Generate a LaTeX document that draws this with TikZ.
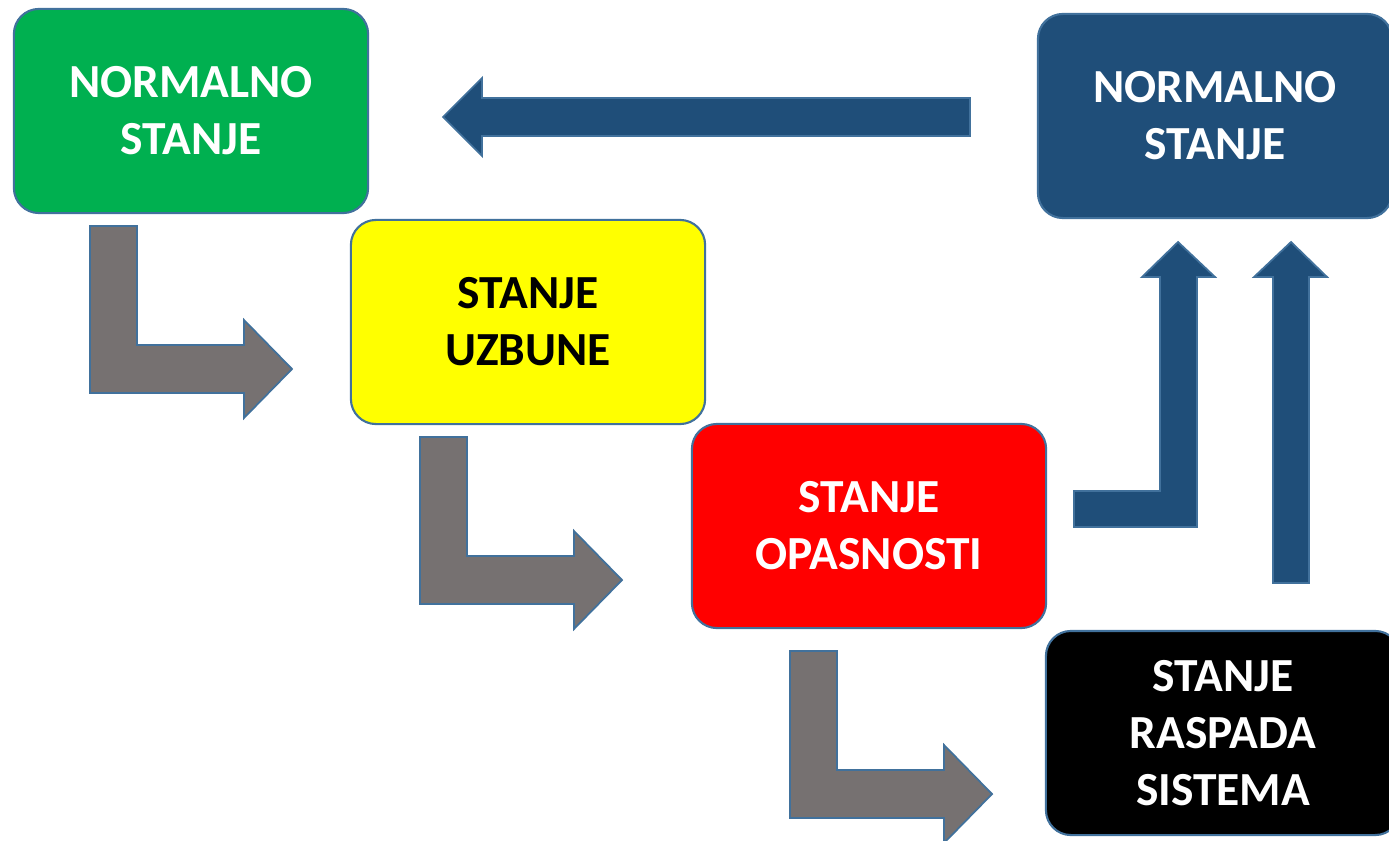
\documentclass[tikz,border=0pt]{standalone}
\usepackage{fontspec}
\setmainfont{Carlito}
\definecolor{okvir}{HTML}{41719C}
\definecolor{zelena}{HTML}{00B050}
\definecolor{zuta}{HTML}{FFFF00}
\definecolor{crvena}{HTML}{FF0000}
\definecolor{plava}{HTML}{1F4E79}
\definecolor{siva}{HTML}{767171}
\tikzset{
  stanje/.style={draw=okvir,line width=0.6pt,rectangle,rounded corners=0.25cm,
    minimum width=3.54cm,minimum height=2.04cm,inner sep=0pt,align=center,
    text=white,font=\fontsize{13.5}{16.2}\selectfont\bfseries},
  strelica/.style={draw=okvir,line width=0.5pt,line join=miter}
}
\begin{document}
\begin{tikzpicture}[x=0.01cm,y=-0.01cm]
  % Page frame
  \clip (0,0) rectangle (1389,840);
  %
  % States
  \node[stanje,fill=zelena] (normalno) at (191,111) {NORMALNO\\STANJE};
  \node[stanje,fill=zuta,text=black] (uzbuna) at (528,322) {STANJE\\UZBUNE};
  \node[stanje,fill=crvena] (opasnost) at (869,526) {STANJE\\OPASNOSTI};
  \node[stanje,fill=black] (raspad) at (1223,733) {STANJE\\RASPADA\\SISTEMA};
  \node[stanje,fill=plava] (povratak) at (1215,116) {NORMALNO\\STANJE};
  %
  % Gray bent arrows, going down
  \foreach \dx/\dy in {0/0,330/211,700/425} {
    \draw[strelica,fill=siva,shift={(\dx,\dy)}]
      (90,226) -- (137,226) -- (137,345) -- (244,345) -- (244,320)
      -- (292,369) -- (244,418) -- (244,393) -- (90,393) -- cycle;
  }
  %
  % Blue arrows, going back
  \draw[strelica,fill=plava] (970,98) -- (482,98) -- (482,78) -- (443,117)
    -- (482,156) -- (482,136) -- (970,136) -- cycle;
  \draw[strelica,fill=plava] (1074,491) -- (1160,491) -- (1160,277) -- (1142,277)
    -- (1178,242) -- (1215,277) -- (1197,277) -- (1197,527) -- (1074,527) -- cycle;
  \draw[strelica,fill=plava] (1273,583) -- (1273,277) -- (1254,277) -- (1291,242)
    -- (1327,277) -- (1309,277) -- (1309,583) -- cycle;
  %
\end{tikzpicture}
\end{document}
